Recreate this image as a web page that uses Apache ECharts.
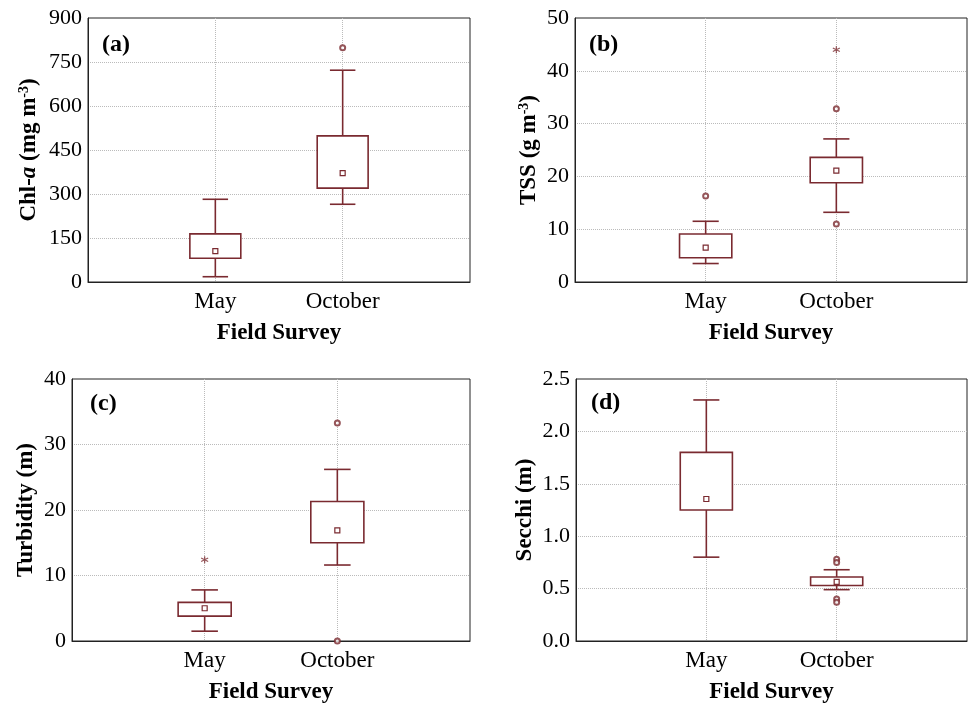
<!DOCTYPE html>
<html>
<head>
<meta charset="UTF-8">
<title>Field Survey boxplots</title>
<script src="https://cdn.jsdelivr.net/npm/echarts@6/dist/echarts.min.js"></script>
<style>
  html, body { margin: 0; padding: 0; background: #fff; }
  #chart { width: 968px; height: 705px; }
</style>
</head>
<body>
<div id="chart"></div>
<script>
var categories = ['May', 'October'];

// each box: [min, Q1, median, Q3, max], May then October
var chlBox = [[18, 81, 105, 164, 282], [265, 320, 371, 498, 722]];
var chlOutliers = [[2, 799]];
var chlExtremes = [];

var tssBox = [[3.5, 4.6, 6.5, 9.1, 11.5], [13.2, 18.8, 21.1, 23.6, 27.1]];
var tssOutliers = [[1, 16.3], [2, 32.8], [2, 11.0]];
var tssExtremes = [[2, 44.0]];

var turbBox = [[1.5, 3.8, 5.0, 5.9, 7.8], [11.6, 15.0, 16.9, 21.3, 26.2]];
var turbOutliers = [[2, 33.3], [2, 0]];
var turbExtremes = [[1, 12.4]];

var secchiBox = [[0.80, 1.25, 1.355, 1.80, 2.30], [0.49, 0.53, 0.565, 0.61, 0.68]];
var secchiOutliers = [[2, 0.78], [2, 0.75], [2, 0.40], [2, 0.37]];
var secchiExtremes = [];

// y axis ranges: [min, max, interval]
var chlTicks = [0, 900, 150];
var tssTicks = [0, 50, 10];
var turbTicks = [0, 40, 10];
var secchiTicks = [0, 2.5, 0.5];

var boxColor = '#7a2a30';
var font = '"Liberation Serif", "Times New Roman", serif';

var panels = [
    { tag: '(a)', box: chlBox, out: chlOutliers, ext: chlExtremes, ticks: chlTicks, dec: 0,
      name: 'Chl-{i|a} (mg m{s|-3})', grid: { left: 88, top: 18, width: 382, height: 264 }, nameGap: 47, tagPos: [97, 28] },
    { tag: '(b)', box: tssBox, out: tssOutliers, ext: tssExtremes, ticks: tssTicks, dec: 0,
      name: 'TSS (g m{s|-3})', grid: { left: 575, top: 18, width: 392, height: 264 }, nameGap: 34, tagPos: [584, 28] },
    { tag: '(c)', box: turbBox, out: turbOutliers, ext: turbExtremes, ticks: turbTicks, dec: 0,
      name: 'Turbidity (m)', grid: { left: 72, top: 379, width: 398, height: 262 }, nameGap: 34, tagPos: [85, 387] },
    { tag: '(d)', box: secchiBox, out: secchiOutliers, ext: secchiExtremes, ticks: secchiTicks, dec: 1,
      name: 'Secchi (m)', grid: { left: 576, top: 379, width: 391, height: 262 }, nameGap: 39, tagPos: [586, 386] }
];

function renderBox(params, api) {
    var x = api.value(0);
    var lo = api.coord([x, api.value(1)]);
    var q1 = api.coord([x, api.value(2)]);
    var med = api.coord([x, api.value(3)]);
    var q3 = api.coord([x, api.value(4)]);
    var hi = api.coord([x, api.value(5)]);
    var bw = api.size([0.4, 0])[0];
    var cw = api.size([0.2, 0])[0];
    var cx = lo[0];
    var st = { stroke: boxColor, lineWidth: 1.6, fill: null };
    return {
        type: 'group',
        children: [
            { type: 'line', shape: { x1: cx, y1: hi[1], x2: cx, y2: lo[1] }, style: st },
            { type: 'line', shape: { x1: cx - cw / 2, y1: hi[1], x2: cx + cw / 2, y2: hi[1] }, style: st },
            { type: 'line', shape: { x1: cx - cw / 2, y1: lo[1], x2: cx + cw / 2, y2: lo[1] }, style: st },
            { type: 'rect', shape: { x: cx - bw / 2, y: q3[1], width: bw, height: q1[1] - q3[1] },
              style: { stroke: boxColor, lineWidth: 1.6, fill: '#fff' } },
            { type: 'rect', shape: { x: med[0] - 2.5, y: med[1] - 2.5, width: 5, height: 5 },
              style: { stroke: boxColor, lineWidth: 1.2, fill: '#fff' } }
        ]
    };
}

var option = { animation: false, title: [], grid: [], xAxis: [], yAxis: [], series: [] };

panels.forEach(function (p, i) {
    option.title.push({
        text: p.tag, left: p.tagPos[0], top: p.tagPos[1],
        textStyle: { fontFamily: font, fontWeight: 'bold', fontSize: 24, color: '#000' }
    });
    option.grid.push(Object.assign({
        show: true, borderColor: '#222', borderWidth: 1, backgroundColor: '#fff',
        containLabel: false, outerBoundsMode: 'none'
    }, p.grid));
    option.xAxis.push({
        type: 'value', gridIndex: i, min: 0, max: 3, interval: 1,
        name: 'Field Survey', nameLocation: 'middle', nameGap: 40,
        nameTextStyle: { fontFamily: font, fontWeight: 'bold', fontSize: 23, color: '#000' },
        axisLine: { lineStyle: { color: '#222', width: 1 } },
        axisTick: { show: false },
        axisLabel: {
            margin: 8, fontFamily: font, fontSize: 23, color: '#000',
            formatter: function (v) { return categories[v - 1] || ''; }
        },
        splitLine: { show: true, showMinLine: false, showMaxLine: false, lineStyle: { color: '#bbb', type: 'dotted', width: 1 } }
    });
    option.yAxis.push({
        type: 'value', gridIndex: i, min: p.ticks[0], max: p.ticks[1], interval: p.ticks[2],
        name: p.name, nameLocation: 'middle', nameRotate: 90, nameGap: p.nameGap,
        nameTextStyle: {
            fontFamily: font, fontWeight: 'bold', fontSize: 23, color: '#000',
            rich: {
                i: { fontFamily: font, fontWeight: 'bold', fontStyle: 'italic', fontSize: 23, color: '#000' },
                s: { fontFamily: font, fontWeight: 'bold', fontSize: 14, color: '#000', verticalAlign: 'top', padding: [0, 0, 10, 0] }
            }
        },
        axisLine: { show: true, lineStyle: { color: '#222', width: 1 } },
        axisTick: { show: false },
        axisLabel: {
            margin: 6, fontFamily: font, fontSize: 22, color: '#000',
            formatter: (function (d) { return function (v) { return v.toFixed(d); }; })(p.dec)
        },
        splitLine: { show: true, showMinLine: false, showMaxLine: false, lineStyle: { color: '#bbb', type: 'dotted', width: 1 } }
    });
    option.series.push({
        type: 'custom', xAxisIndex: i, yAxisIndex: i, renderItem: renderBox,
        encode: { x: 0, y: [1, 2, 3, 4, 5] },
        data: p.box.map(function (b, k) { return [k + 1].concat(b); }),
        z: 3
    });
    option.series.push({
        type: 'scatter', xAxisIndex: i, yAxisIndex: i, data: p.out,
        symbol: 'emptyCircle', symbolSize: 5,
        itemStyle: { color: boxColor, borderWidth: 1.2 }, z: 4
    });
    option.series.push({
        type: 'scatter', xAxisIndex: i, yAxisIndex: i, data: p.ext,
        symbol: 'path://M5,0L5,10M0.7,2.5L9.3,7.5M0.7,7.5L9.3,2.5', symbolSize: 7,
        itemStyle: { color: 'none', borderColor: boxColor, borderWidth: 1.2 }, z: 4
    });
});

var myChart = echarts.init(document.getElementById('chart'));
myChart.setOption(option);
</script>
</body>
</html>
